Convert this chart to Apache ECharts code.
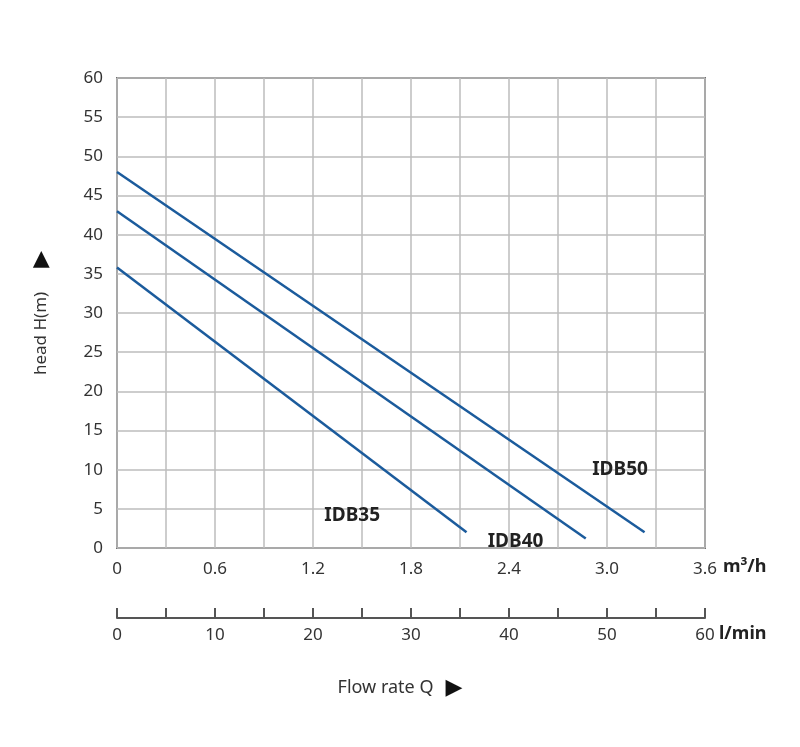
<!DOCTYPE html>
<html>
<head>
	<meta charset="UTF-8">
	<title></title>
	<style>
		html, body { margin: 0; padding: 0; background: #fff; }
		#chart { width: 800px; height: 747px; }
	</style>
	<script src="https://cdn.jsdelivr.net/npm/echarts@6/dist/echarts.min.js"></script>
</head>
<body>
	<div id="chart"></div>
	<script>
		// curve end points: [flow m3/h, head m]
		var idb35 = [[0, 35.8], [2.14, 2.0]];
		var idb40 = [[0, 43.0], [2.87, 1.2]];
		var idb50 = [[0, 48.0], [3.23, 2.0]];
		var curveNames = ['IDB35', 'IDB40', 'IDB50'];
		// where each model name sits, in data units
		var nameSpots = [[1.44, 4.1], [2.44, 0.8], [3.08, 10.0]];

		var font = 'Noto Sans';
		var blue = '#1b5b9c';
		var arrow = { fontFamily: 'DejaVu Sans', fontSize: 22, color: '#111', padding: [0, 0, 0, 12] };

		function curve(name, data, spot) {
			return {
				name: name,
				type: 'line',
				data: data,
				symbol: 'none',
				lineStyle: { color: blue, width: 2.5 },
				markPoint: {
					symbolSize: 0,
					label: { show: true, formatter: '{b}', color: '#222', fontFamily: font, fontWeight: 'bold', fontSize: 19 },
					data: [{ name: name, coord: spot }]
				}
			};
		}

		var chart = echarts.init(document.getElementById('chart'));
		chart.setOption({
			animation: false,
			textStyle: { fontFamily: font },
			title: {
				text: 'Flow rate Q{a|▶}',
				left: 'center',
				top: 672,
				textStyle: { fontFamily: font, fontSize: 18, fontWeight: 'normal', color: '#333', rich: { a: arrow } }
			},
			grid: [
				{ left: 117, right: 95, top: 78, bottom: 199, show: true, borderColor: '#707070', borderWidth: 2 },
				{ left: 117, right: 95, top: 608, height: 10 }
			],
			xAxis: [
				{
					type: 'value', gridIndex: 0, min: 0, max: 3.6, interval: 0.6,
					name: 'm³/h', nameLocation: 'end', nameGap: 14,
					nameTextStyle: { color: '#222', fontSize: 18, fontWeight: 'bold', verticalAlign: 'top', padding: [10, 0, 0, 0] },
					axisLine: { show: false }, axisTick: { show: false },
					axisLabel: { color: '#333', fontSize: 17, margin: 13, formatter: function (v) { return v === 0 ? '0' : v.toFixed(1); } },
					splitLine: { lineStyle: { color: '#bdbdbd', width: 1.5 } },
					minorTick: { show: false, splitNumber: 2 },
					minorSplitLine: { show: true, lineStyle: { color: '#bdbdbd', width: 1.5 } }
				},
				{
					type: 'value', gridIndex: 1, min: 0, max: 60, interval: 5, position: 'top',
					axisLine: { show: true, lineStyle: { color: '#555', width: 2 } },
					axisTick: { show: false }, axisLabel: { show: false }, splitLine: { show: false }
				},
				{
					type: 'value', gridIndex: 1, min: 0, max: 60, interval: 5, position: 'bottom',
					name: 'l/min', nameLocation: 'end', nameGap: 14,
					nameTextStyle: { color: '#222', fontSize: 18, fontWeight: 'bold', verticalAlign: 'top', padding: [7, 0, 0, 0] },
					axisLine: { show: false },
					axisTick: { show: true, inside: true, length: 10, lineStyle: { color: '#555', width: 2 } },
					axisLabel: { color: '#333', fontSize: 17, margin: 9, formatter: function (v) { return v % 10 === 0 ? String(v) : ''; } },
					splitLine: { show: false }
				}
			],
			yAxis: [
				{
					type: 'value', gridIndex: 0, min: 0, max: 60, interval: 5,
					name: 'head H(m){b|▶}', nameLocation: 'middle', nameRotate: 90, nameGap: 65,
					nameTextStyle: { color: '#333', fontSize: 17, rich: { b: { fontFamily: 'DejaVu Sans', fontSize: 22, color: '#111', padding: [0, 0, 0, 24] } } },
					axisLine: { show: false }, axisTick: { show: false },
					axisLabel: { color: '#333', fontSize: 17, margin: 14 },
					splitLine: { lineStyle: { color: '#bdbdbd', width: 1.5 } }
				},
				{ type: 'value', gridIndex: 1, show: false, min: 0, max: 1 }
			],
			series: [
				curve(curveNames[0], idb35, nameSpots[0]),
				curve(curveNames[1], idb40, nameSpots[1]),
				curve(curveNames[2], idb50, nameSpots[2])
			]
		});
	</script>
</body>
</html>
